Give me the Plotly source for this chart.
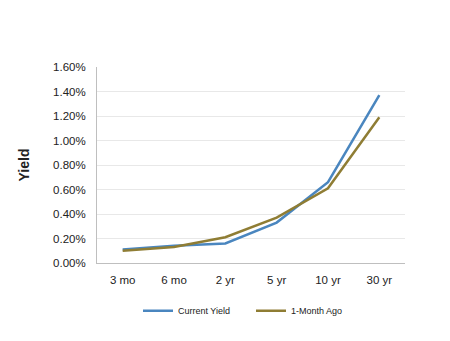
import plotly.graph_objects as go

maturities = ["3 mo", "6 mo", "2 yr", "5 yr", "10 yr", "30 yr"]
current_yield = [0.0011, 0.0014, 0.0016, 0.0033, 0.0066, 0.0137]
month_ago = [0.0010, 0.0013, 0.0021, 0.0037, 0.0061, 0.0119]

fig = go.Figure()
fig.add_trace(go.Scatter(x=maturities, y=current_yield, mode="lines",
                         name="Current Yield",
                         line=dict(color="#4A86BF", width=2.5)))
fig.add_trace(go.Scatter(x=maturities, y=month_ago, mode="lines",
                         name="1-Month Ago",
                         line=dict(color="#8F7D34", width=2.5)))

fig.update_layout(
    width=450, height=341,
    margin=dict(l=97, r=45, t=67, b=78),
    paper_bgcolor="white", plot_bgcolor="white",
    font=dict(family="Arial, Liberation Sans, sans-serif", size=11, color="#222222"),
    showlegend=True,
    legend=dict(orientation="h", x=0.5, xanchor="center", y=-0.17, yanchor="top",
                font=dict(size=9), itemwidth=30, entrywidth=68,
                entrywidthmode="pixels"),
    xaxis=dict(type="category", range=[-0.5, 5.5], showgrid=False,
               showline=True, linecolor="#BFBFBF", linewidth=1,
               ticks="", tickfont=dict(size=11.5), ticklabelstandoff=6),
    yaxis=dict(range=[0, 0.016], dtick=0.002, tickformat=".2%",
               showgrid=True, gridcolor="#E8E8E8", gridwidth=1,
               showline=True, linecolor="#BFBFBF", linewidth=1,
               zeroline=False, ticks="", tickfont=dict(size=11.5),
               ticklabelstandoff=8,
               title=dict(text="<b>Yield</b>", font=dict(size=14), standoff=20)),
)

fig.write_html("out.html")
